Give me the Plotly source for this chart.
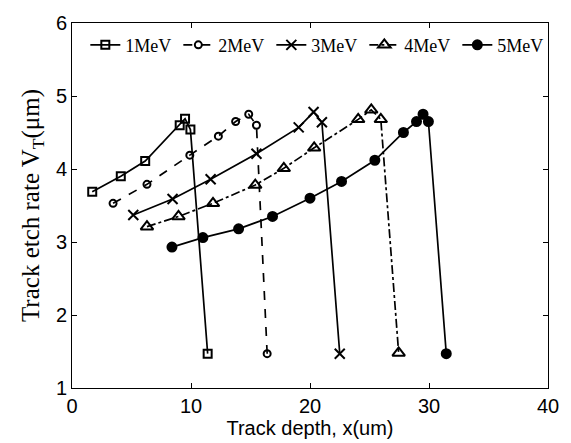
import plotly.graph_objects as go

x1 = [1.7, 4.1, 6.15, 9.05, 9.5, 9.95, 11.4]
y1 = [3.69, 3.90, 4.11, 4.60, 4.69, 4.54, 1.47]
x2 = [3.45, 6.3, 9.9, 12.3, 13.75, 14.85, 15.5, 16.4]
y2 = [3.53, 3.79, 4.19, 4.45, 4.65, 4.75, 4.60, 1.47]
x3 = [5.15, 8.45, 11.65, 15.5, 19.05, 20.3, 21.0, 22.5]
y3 = [3.37, 3.59, 3.86, 4.21, 4.57, 4.78, 4.64, 1.47]
x4 = [6.3, 8.95, 11.85, 15.4, 17.8, 20.35, 24.05, 25.15, 25.95, 27.45]
y4 = [3.21, 3.35, 3.53, 3.78, 4.01, 4.29, 4.68, 4.81, 4.68, 1.48]
x5 = [8.4, 11.0, 14.0, 16.85, 20.0, 22.65, 25.45, 27.85, 28.95, 29.5, 29.95, 31.45]
y5 = [2.93, 3.06, 3.18, 3.35, 3.60, 3.83, 4.12, 4.50, 4.65, 4.75, 4.65, 1.47]
names = ["1MeV", "2MeV", "3MeV", "4MeV", "5MeV"]

series = [(x1, y1), (x2, y2), (x3, y3), (x4, y4), (x5, y5)]
dashes = ["solid", "dash", "solid", "dashdot", "solid"]
symbols = ["square-open", "circle-open", "x-thin-open", "triangle-up-open", "circle"]
sizes = [8, 7, 10, 11, 9]

fig = go.Figure()
for (xs, ys), n, d, s, sz in zip(series, names, dashes, symbols, sizes):
    fig.add_trace(go.Scatter(
        x=xs, y=ys, name=n, mode="lines+markers",
        line=dict(color="black", width=1.7, dash=d),
        marker=dict(symbol=s, size=sz, color="black",
                    line=dict(color="black", width=2)),
    ))

axis_common = dict(
    showline=True, linecolor="black", linewidth=1, mirror="ticks",
    ticks="inside", ticklen=5, tickcolor="black", showgrid=False,
    zeroline=False, tickfont=dict(family="Liberation Sans, Arial", size=20, color="black"),
)
fig.update_xaxes(range=[0, 40], tickvals=[0, 10, 20, 30, 40], **axis_common,
                 title=dict(text="Track depth, x(um)", standoff=0,
                            font=dict(family="Liberation Sans, Arial", size=20, color="black")))
fig.update_yaxes(range=[1, 6], tickvals=[1, 2, 3, 4, 5, 6], **axis_common,
                 title=dict(text="Track etch rate V<sub>T</sub>(μm)", standoff=9,
                            font=dict(family="Liberation Serif, Times New Roman", size=25, color="black")))

fig.update_layout(
    width=571, height=443,
    margin=dict(l=72, r=18, t=14, b=55),
    paper_bgcolor="white", plot_bgcolor="white",
    showlegend=True,
    legend=dict(orientation="h", x=0.028, y=0.99, xanchor="left", yanchor="top",
                font=dict(family="Liberation Serif, Times New Roman", size=18, color="black"),
                bgcolor="rgba(0,0,0,0)", itemwidth=30, tracegroupgap=0,
                entrywidth=48, entrywidthmode="pixels"),
)
fig.write_html("out.html")
